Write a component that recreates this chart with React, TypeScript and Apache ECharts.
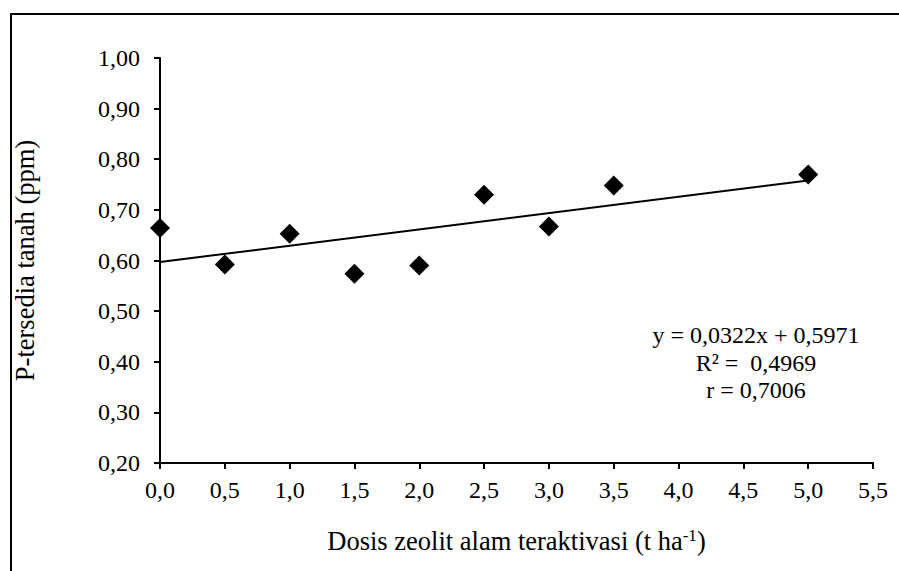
import React, { useEffect, useRef } from "react";
import * as echarts from "echarts";

const doses = [0, 0.5, 1.0, 1.5, 2.0, 2.5, 3.0, 3.5, 5.0];
const pAvailable = [0.664, 0.592, 0.653, 0.574, 0.59, 0.73, 0.667, 0.748, 0.77];
const trendX = [0, 5.0];
const trendY = [0.5971, 0.7581];
const equationLines = ["y = 0,0322x + 0,5971", "R² =  0,4969", "r = 0,7006"];

const FONT = "Liberation Serif";
const FS = 24;
const TITLE_FS = 26.5;

export default function App() {
  const ref = useRef<HTMLDivElement>(null);
  useEffect(() => {
    if (!ref.current) return;
    const chart = echarts.init(ref.current, null, { renderer: "svg" });
    const fmt1 = (v: number) => v.toFixed(1).replace(".", ",");
    const fmt2 = (v: number) => v.toFixed(2).replace(".", ",");
    chart.setOption({
      animation: false,
      backgroundColor: "#ffffff",
      textStyle: { fontFamily: FONT, color: "#000" },
      grid: { left: 160, top: 58, right: 26, bottom: 108 },
      xAxis: {
        type: "value",
        min: 0,
        max: 5.5,
        interval: 0.5,
        name: "Dosis zeolit alam teraktivasi (t ha{sup|-1})",
        nameLocation: "middle",
        nameGap: 64,
        nameTextStyle: {
          fontFamily: FONT,
          fontSize: TITLE_FS,
          color: "#000",
          rich: {
            sup: { fontFamily: FONT, fontSize: 17, color: "#000", verticalAlign: "top", padding: [0, 0, 11, 0] },
          },
        },
        axisLine: { show: true, lineStyle: { color: "#000", width: 2 } },
        axisTick: { show: true, inside: false, length: 6, lineStyle: { color: "#000", width: 2 } },
        axisLabel: { fontFamily: FONT, fontSize: FS, color: "#000", margin: 15, formatter: fmt1 },
        splitLine: { show: false },
      },
      yAxis: {
        type: "value",
        min: 0.2,
        max: 1.0,
        interval: 0.1,
        name: "P-tersedia tanah (ppm)",
        nameLocation: "middle",
        nameRotate: 90,
        nameGap: 122,
        nameTextStyle: { fontFamily: FONT, fontSize: TITLE_FS, color: "#000" },
        axisLine: { show: true, lineStyle: { color: "#000", width: 2 } },
        axisTick: { show: true, inside: false, length: 6, lineStyle: { color: "#000", width: 2 } },
        axisLabel: { fontFamily: FONT, fontSize: FS, color: "#000", margin: 20, formatter: fmt2 },
        splitLine: { show: false },
      },
      series: [
        {
          type: "line",
          data: trendX.map((x, i) => [x, trendY[i]]),
          showSymbol: false,
          symbol: "none",
          lineStyle: { color: "#000", width: 2 },
          z: 2,
        },
        {
          type: "scatter",
          data: doses.map((x, i) => [x, pAvailable[i]]),
          symbol: "diamond",
          symbolSize: 20,
          itemStyle: { color: "#000", opacity: 1 },
          z: 3,
        },
      ],
      graphic: [
        {
          type: "rect",
          shape: { x: 11, y: 14, width: 1000, height: 700 },
          style: { fill: "none", stroke: "#000", lineWidth: 2 },
          silent: true,
        },
        ...equationLines.map((t, i) => ({
          type: "text",
          x: 756,
          y: 335 + i * 27.5,
          style: {
            text: t,
            fontFamily: FONT,
            fontSize: FS,
            fill: "#000",
            textAlign: "center",
            textVerticalAlign: "middle",
          },
        })),
      ],
    });
    return () => chart.dispose();
  }, []);
  return (
    <div
      ref={ref}
      style={{ position: "fixed", left: 0, top: 0, width: 899, height: 571, background: "#fff" }}
    />
  );
}
